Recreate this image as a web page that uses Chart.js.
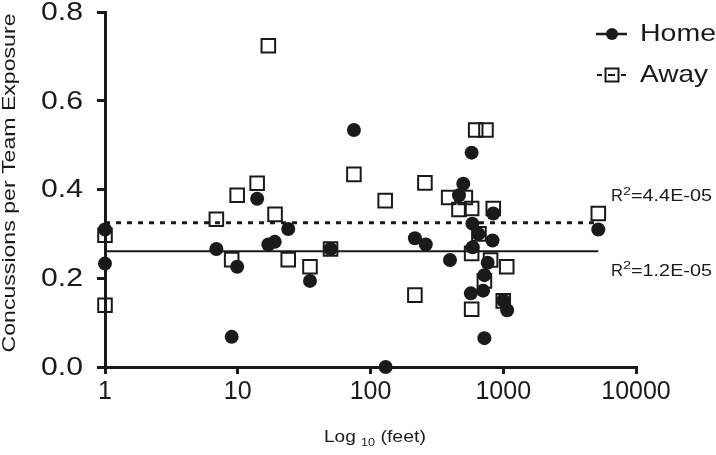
<!DOCTYPE html>
<html>
<head>
<meta charset="utf-8">
<script src="https://cdn.jsdelivr.net/npm/chart.js@4.4.1/dist/chart.umd.min.js"></script>
<style>
  html, body { margin: 0; padding: 0; background: #fff; }
  #wrap { width: 716px; height: 455px; position: relative; }
</style>
</head>
<body>
<div id="wrap"><canvas id="c" width="716" height="455"></canvas></div>
<script>
// ---- data ----
const homeX = [1, 1, 6.9, 9.0, 9.9, 14, 17, 19, 24, 35, 50, 75, 130, 216, 261, 397, 464, 500, 578, 585, 588, 650, 570, 705, 721, 721, 763, 841, 830, 1000, 1070, 5200];
const homeY = [0.310, 0.233, 0.266, 0.068, 0.226, 0.379, 0.276, 0.282, 0.311, 0.194, 0.266, 0.534, 0.0, 0.290, 0.276, 0.241, 0.387, 0.413, 0.483, 0.323, 0.270, 0.300, 0.166, 0.172, 0.207, 0.065, 0.235, 0.346, 0.285, 0.150, 0.128, 0.310];
const awayX = [1, 1, 6.9, 9.0, 9.9, 14, 17, 19.1, 24, 35, 50, 75, 129, 216, 257, 388, 464, 518, 578, 578, 578, 620, 741, 656, 721, 841, 803, 1062, 1000, 5200];
const awayY = [0.297, 0.139, 0.333, 0.242, 0.387, 0.414, 0.724, 0.344, 0.242, 0.226, 0.266, 0.434, 0.375, 0.162, 0.415, 0.382, 0.355, 0.382, 0.357, 0.256, 0.130, 0.534, 0.534, 0.300, 0.194, 0.357, 0.241, 0.226, 0.149, 0.346];
const fitX = [1, 5200];
const homeFit = [0.261, 0.261];
const awayFit = [0.325, 0.325];
const xTicks = [1, 10, 100, 1000, 10000];
const yTicks = [0, 0.2, 0.4, 0.6, 0.8];
const seriesNames = ["Home", "Away"];
const r2Labels = ["4.4E-05", "1.2E-05"];
const yTitle = "Concussions per Team Exposure";

const INK = '#1a1a1a';
const FONT = '"Liberation Sans", Arial, Helvetica, sans-serif';

function pts(xs, ys) { return xs.map((x, i) => ({ x: x, y: ys[i] })); }

// draw text stretched horizontally to a target width
function fitText(ctx, str, x, y, size, width, align) {
  ctx.save();
  ctx.font = size + 'px ' + FONT;
  const w = ctx.measureText(str).width;
  const sx = width ? width / w : 1;
  ctx.translate(x, y);
  ctx.scale(sx, 1);
  ctx.textBaseline = 'middle';
  let off = 0;
  if (align === 'center') off = -w / 2;
  else if (align === 'right') off = -w;
  ctx.textAlign = 'left';
  ctx.fillText(str, off, 0);
  ctx.restore();
  return w * sx;
}

const decor = {
  id: 'decor',
  afterDraw(chart) {
    const ctx = chart.ctx;
    const ys = chart.scales.y;
    ctx.save();
    ctx.fillStyle = INK;
    ctx.strokeStyle = INK;

    // y tick labels (stretched like the reference)
    yTicks.forEach(v => {
      fitText(ctx, v.toFixed(1), 83, ys.getPixelForValue(v) + 1, 25, 42, 'right');
    });

    // legend
    const lx = 612, ly1 = 34, ly2 = 75;
    ctx.lineWidth = 2.5;
    ctx.beginPath(); ctx.moveTo(596, ly1); ctx.lineTo(627, ly1); ctx.stroke();
    ctx.beginPath(); ctx.arc(lx, ly1, 6, 0, Math.PI * 2); ctx.fill();
    ctx.lineWidth = 2;
    ctx.beginPath(); ctx.moveTo(597, ly2); ctx.lineTo(602, ly2); ctx.stroke();
    ctx.beginPath(); ctx.moveTo(608, ly2); ctx.lineTo(615, ly2); ctx.stroke();
    ctx.beginPath(); ctx.moveTo(621, ly2); ctx.lineTo(626, ly2); ctx.stroke();
    ctx.strokeRect(lx - 6.5, ly2 - 6.5, 13, 13);
    fitText(ctx, seriesNames[0], 640, ly1, 24, 76, 'left');
    fitText(ctx, seriesNames[1], 640, ly2, 24, 68, 'left');

    // R² labels
    const drawR2 = (val, y) => {
      let x = 611;
      x += fitText(ctx, 'R', x, y, 16.5, 12, 'left');
      x += fitText(ctx, '2', x, y - 5, 11, 8, 'left');
      fitText(ctx, '=' + val, x, y, 16.5, 81, 'left');
    };
    drawR2(r2Labels[0], ys.getPixelForValue(awayFit[0]) - 26);
    drawR2(r2Labels[1], ys.getPixelForValue(homeFit[0]) + 20);

    // x-axis title with subscript
    let tx = 324, ty = 438;
    tx += fitText(ctx, 'Log ', tx, ty, 16, 37, 'left');
    tx += fitText(ctx, '10', tx, ty + 5, 11, 14, 'left');
    fitText(ctx, ' (feet)', tx, ty, 16, 51, 'left');

    // y-axis title rotated
    ctx.save();
    ctx.translate(10, 183);
    ctx.rotate(-Math.PI / 2);
    fitText(ctx, yTitle, 0, 0, 19, 339, 'center');
    ctx.restore();

    ctx.restore();
  }
};

new Chart(document.getElementById('c'), {
  type: 'scatter',
  data: {
    datasets: [
      {
        label: seriesNames[1] + ' fit', data: pts(fitX, awayFit), showLine: true,
        borderColor: INK, borderWidth: 3, borderDash: [5, 6], pointRadius: 0, order: 5
      },
      {
        label: seriesNames[0] + ' fit', data: pts(fitX, homeFit), showLine: true,
        borderColor: INK, borderWidth: 2, pointRadius: 0, order: 4
      },
      {
        label: seriesNames[0], data: pts(homeX, homeY), pointStyle: 'circle',
        pointRadius: 7, backgroundColor: INK, borderColor: INK, borderWidth: 0, order: 2
      },
      {
        label: seriesNames[1], data: pts(awayX, awayY), pointStyle: 'rect',
        pointRadius: 9.6, backgroundColor: 'rgba(0,0,0,0)', borderColor: INK, borderWidth: 2, order: 1
      }
    ]
  },
  options: {
    responsive: false,
    animation: false,
    devicePixelRatio: 1,
    clip: false,
    layout: { padding: { top: 12, right: 80, left: 0, bottom: 0 } },
    plugins: { legend: { display: false }, tooltip: { enabled: false }, title: { display: false } },
    scales: {
      x: {
        type: 'logarithmic', min: 1, max: 10000,
        afterBuildTicks(s) { s.ticks = xTicks.map(v => ({ value: v })); },
        afterFit(s) { s.height = 88; },
        ticks: {
          callback: (v) => String(v), color: INK, padding: 3,
          font: { family: FONT, size: 25 }, maxRotation: 0, autoSkip: false
        },
        grid: { drawOnChartArea: false, drawTicks: true, tickLength: 7, color: INK, lineWidth: 3 },
        border: { display: true, color: INK, width: 3 }
      },
      y: {
        min: 0, max: 0.8,
        afterBuildTicks(s) { s.ticks = yTicks.map(v => ({ value: v })); },
        afterFit(s) { s.width = 105; s.paddingTop = 0; s.paddingBottom = 0; },
        ticks: {
          display: false
        },
        grid: { drawOnChartArea: false, drawTicks: true, tickLength: 8, color: INK, lineWidth: 3 },
        border: { display: true, color: INK, width: 3 }
      }
    }
  },
  plugins: [decor]
});
</script>
</body>
</html>
